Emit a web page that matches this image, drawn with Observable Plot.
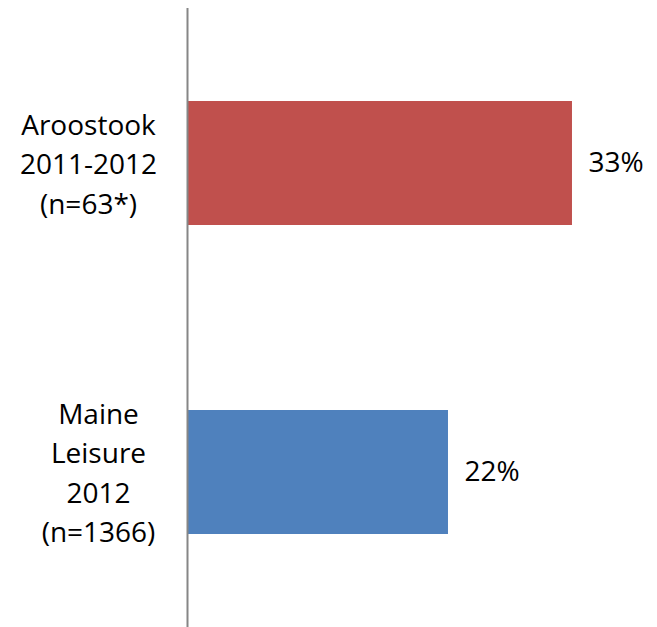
<!DOCTYPE html>
<html>
<head>
<meta charset="utf-8">
<script src="https://cdn.jsdelivr.net/npm/d3@7"></script>
<script src="https://cdn.jsdelivr.net/npm/@observablehq/plot@0.6"></script>
<style>
  html, body { margin: 0; padding: 0; background: #fff; }
  #chart svg { display: block; }
</style>
</head>
<body>
<div id="chart"></div>
<script>
const categories = ["Aroostook\n2011-2012\n(n=63*)", "Maine\nLeisure\n2012\n(n=1366)"];
const values = [32.6, 22.1];
const valueLabels = ["33%", "22%"];
const colors = ["#C0504D", "#4F81BD"];

const data = categories.map((c, i) => ({category: c, value: values[i], label: valueLabels[i], color: colors[i]}));

const font = "'Open Sans', sans-serif";
const axisOpts = {tickSize: 0, textAnchor: "middle", lineHeight: 1.41, fontSize: 28, fill: "#000", label: null, dy: -2};

const chart = Plot.plot({
  width: 657,
  height: 627,
  marginLeft: 187,
  marginRight: 0,
  marginTop: 8,
  marginBottom: 0,
  style: {fontFamily: font, fontSize: "28px", color: "#000", background: "#fff"},
  x: {domain: [0, 39.8], axis: null},
  y: {domain: categories, paddingInner: 0.6, paddingOuter: 0.3, label: null, axis: null},
  marks: [
    Plot.barX(data, {x: "value", y: "category", fill: "color"}),
    Plot.text(data, {x: "value", y: "category", text: "label", textAnchor: "start", dx: 16, fill: "#000", fontSize: 28}),
    Plot.axisY(categories.slice(0, 1), {...axisOpts, tickPadding: 99}),
    Plot.axisY(categories.slice(1), {...axisOpts, tickPadding: 89}),
    Plot.ruleX([0], {stroke: "#868686", strokeWidth: 2})
  ]
});
document.getElementById("chart").appendChild(chart);
</script>
</body>
</html>
